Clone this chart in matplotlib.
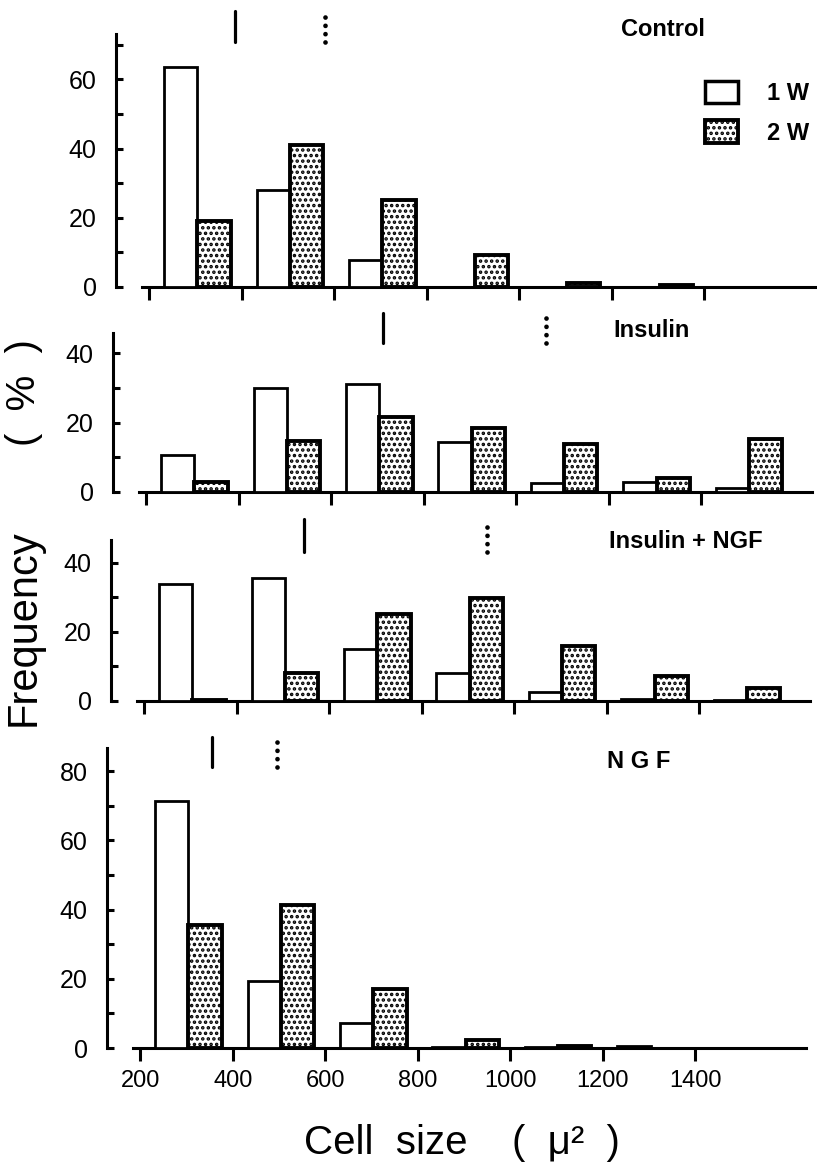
import matplotlib
matplotlib.use('Agg')
import matplotlib.pyplot as plt
from matplotlib.patches import Patch

plt.rcParams['font.family'] = ['Liberation Sans', 'DejaVu Sans']
plt.rcParams['hatch.color'] = 'black'
plt.rcParams['hatch.linewidth'] = 1.7

# Datos (frecuencia en %)
bins = [200, 400, 600, 800, 1000, 1200, 1400]

control_1w = [63.5, 28.1, 7.9, 0, 0, 0, 0]
control_2w = [19.0, 41.1, 25.1, 9.2, 1.2, 0.6, 0]
insulin_1w = [10.6, 29.9, 31.1, 14.3, 2.4, 2.9, 1.2]
insulin_2w = [2.9, 14.7, 21.7, 18.5, 13.8, 4.0, 15.2]
ins_ngf_1w = [33.7, 35.5, 15.0, 8.0, 2.5, 0.5, 0.3]
ins_ngf_2w = [0.4, 8.2, 25.1, 29.9, 16.0, 7.2, 3.7]
ngf_1w = [71.4, 19.4, 7.2, 0.3, 0.3, 0.7, 0]
ngf_2w = [35.5, 41.3, 17.0, 2.2, 0.7, 0, 0]

# Tamaño medio (marcas verticales sobre cada panel)
media_1w = [385, 712, 546, 356]
media_2w = [580, 1065, 941, 496]

paneles = ['Control', 'Insulin', 'Insulin + NGF', 'N G F']
datos_1w = [control_1w, insulin_1w, ins_ngf_1w, ngf_1w]
datos_2w = [control_2w, insulin_2w, ins_ngf_2w, ngf_2w]

# Layout en pixeles de la figura (817 x 1165)
W, H = 817, 1165
PX_UNIT = 3.46          # px por punto de %
PX_X = 0.4623           # px por unidad de tamaño
XMIN, XMAX = 128, 1640
# (izquierda px, linea cero px, alto px, tope del eje y, ticks mayores, ticks menores, y marca, y texto, x texto)
layout = [
    (116, 287.0, 277, 73.0, [0, 20, 40, 60], [10, 30, 50, 70], 0.884, 0.931, 1311),
    (113, 491.7, 180, 46.0, [0, 20, 40], [10, 30], 0.826, 0.898, 1292),
    (111, 701.0, 183, 46.5, [0, 20, 40], [10, 30], 0.814, 0.869, 1371),
    (107, 1048.0, 313, 86.7, [0, 20, 40, 60, 80], [10, 30, 50, 70], 0.898, 0.914, 1279),
]

fig = plt.figure(figsize=(W / 100, H / 100), dpi=100, facecolor='white')

ancho = 72
ejes = []
for i, (left, zero, alto, ytop, mayores, menores, ymark, ytext, xtext) in enumerate(layout):
    ax = fig.add_axes([left / W, (H - zero) / H, (XMAX - XMIN) * PX_X / W, alto / H])
    ax.patch.set_alpha(0)
    ax.set_xlim(XMIN, XMAX)
    ax.set_ylim(0, alto / PX_UNIT)

    # barras de altura cero no se dibujan (solo quedaria el borde)
    x_open = [b + 32 for b, v in zip(bins, datos_1w[i]) if v > 0]
    y_open = [v for v in datos_1w[i] if v > 0]
    x_dot = [b + 104 for b, v in zip(bins, datos_2w[i]) if v > 0]
    y_dot = [v for v in datos_2w[i] if v > 0]
    ax.bar(x_open, y_open, width=ancho, align='edge', facecolor='white',
           edgecolor='black', linewidth=2.0, zorder=3)
    ax.bar(x_dot, y_dot, width=ancho, align='edge', facecolor='white',
           edgecolor='black', linewidth=2.8, hatch='...', zorder=3)

    # marcas de la media
    tr = ax.get_xaxis_transform()
    ax.plot([media_1w[i], media_1w[i]], [ymark, 0.995], color='black', lw=2.3,
            solid_capstyle='round', transform=tr, clip_on=False)
    ax.plot([media_2w[i], media_2w[i]], [ymark, 0.995], color='black', lw=3.4,
            dashes=(0.01, 1.75), dash_capstyle='round', transform=tr, clip_on=False)

    ax.text(xtext, ytext, paneles[i], transform=tr, ha='center', va='center',
            fontsize=17, fontweight='bold')

    # ejes
    for s in ['top', 'right']:
        ax.spines[s].set_visible(False)
    ax.spines['left'].set_bounds(0, ytop)
    ax.spines['bottom'].set_bounds(185, XMAX)
    ax.spines['left'].set_linewidth(2.2)
    ax.spines['bottom'].set_linewidth(2.2)

    ax.set_yticks(mayores)
    ax.set_yticks(menores, minor=True)
    ax.tick_params(axis='y', which='both', direction='in', length=5, width=2.2,
                   labelsize=18, pad=14)
    ax.set_xticks(bins)
    ax.tick_params(axis='x', direction='out', length=9, width=2.2, labelsize=17, pad=7)
    if i < 3:
        ax.set_xticklabels([])
    ejes.append(ax)

# leyenda
handles = [Patch(facecolor='white', edgecolor='black', linewidth=2.5),
           Patch(facecolor='white', edgecolor='black', linewidth=2.8, hatch='...')]
leg = ejes[0].legend(handles, ['1 W', '2 W'], loc='upper left',
                     bbox_to_anchor=(0.843, 0.745), frameon=False, borderpad=0,
                     borderaxespad=0, handlelength=1.4, handleheight=1.1,
                     handletextpad=1.2, labelspacing=0.65,
                     prop={'size': 17, 'weight': 'bold'})

# titulos de ejes
fig.text(24 / W, 1 - 628 / H, 'Frequency', rotation=90, ha='center', va='center',
         fontsize=30)
fig.text(24 / W, 1 - 393 / H, '(  %  )', rotation=90, ha='center', va='center',
         fontsize=29)
fig.text(462 / W, 1 - 1143 / H, 'Cell  size    (  \u03bc\u00b2  )', ha='center',
         va='center', fontsize=29)

plt.savefig('out.png', dpi=100, facecolor='white')
